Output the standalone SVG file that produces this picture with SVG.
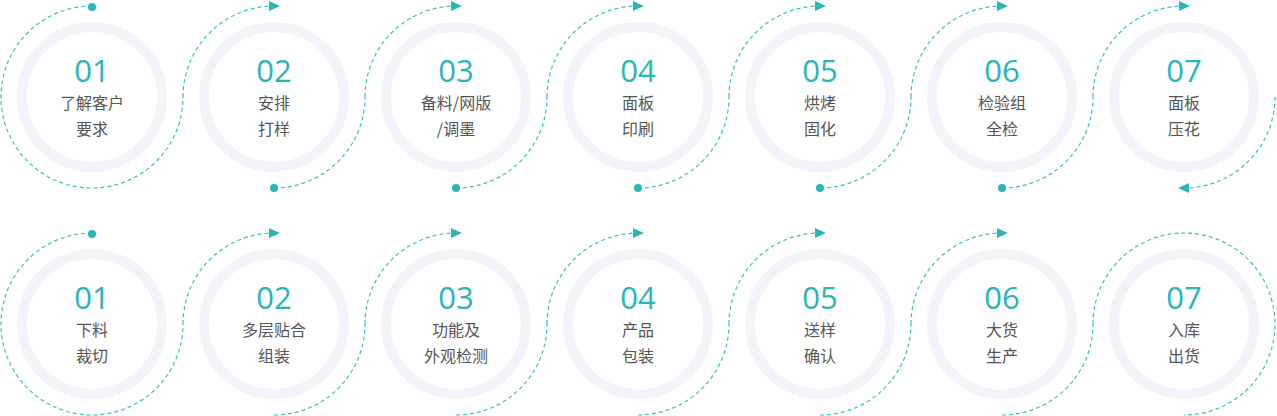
<svg xmlns="http://www.w3.org/2000/svg" width="1277" height="416" viewBox="0 0 1277 416">
<style>
.ring{fill:none;stroke:#f3f4f9;stroke-width:10}
.num{font-family:"Open Sans","Liberation Sans",sans-serif;font-size:31px;fill:#2ab5b8;text-anchor:middle}
.lbl{font-family:"Noto Sans CJK SC","Noto Sans",sans-serif;font-size:16px;fill:#555;text-anchor:middle}
.d{fill:none;stroke:#3bbfbf;stroke-width:1.2;stroke-dasharray:4 3}
.dot{fill:#2ab5b8}
</style>
<defs>
<marker id="ar" markerWidth="12" markerHeight="12" refX="6" refY="6" orient="auto" markerUnits="userSpaceOnUse">
<path d="M1,1 L12,6 L1,11 z" fill="#2ab5b8"/>
</marker>
</defs>
<g id="connectors">
<path class="d" d="M92,6 A91,91 0 1 0 183,97"/>
<path class="d" d="M183,97 A91,91 0 0 1 274,6" marker-end="url(#ar)"/>
<path class="d" d="M274,188 A91,91 0 0 0 365,97"/>
<path class="d" d="M365,97 A91,91 0 0 1 456,6" marker-end="url(#ar)"/>
<path class="d" d="M456,188 A91,91 0 0 0 547,97"/>
<path class="d" d="M547,97 A91,91 0 0 1 638,6" marker-end="url(#ar)"/>
<path class="d" d="M638,188 A91,91 0 0 0 729,97"/>
<path class="d" d="M729,97 A91,91 0 0 1 820,6" marker-end="url(#ar)"/>
<path class="d" d="M820,188 A91,91 0 0 0 911,97"/>
<path class="d" d="M911,97 A91,91 0 0 1 1002,6" marker-end="url(#ar)"/>
<path class="d" d="M1002,188 A91,91 0 0 0 1093,97"/>
<path class="d" d="M1093,97 A91,91 0 0 1 1184,6" marker-end="url(#ar)"/>
<path class="d" d="M1275,97 A91,91 0 0 1 1184,188" marker-end="url(#ar)"/>
<circle class="dot" cx="92" cy="7" r="4"/>
<circle class="dot" cx="274" cy="188" r="4"/>
<circle class="dot" cx="456" cy="188" r="4"/>
<circle class="dot" cx="638" cy="188" r="4"/>
<circle class="dot" cx="820" cy="188" r="4"/>
<circle class="dot" cx="1002" cy="188" r="4"/>
<path class="d" d="M92,233 A91,91 0 1 0 183,324"/>
<path class="d" d="M183,324 A91,91 0 0 1 274,233" marker-end="url(#ar)"/>
<path class="d" d="M274,415 A91,91 0 0 0 365,324"/>
<path class="d" d="M365,324 A91,91 0 0 1 456,233" marker-end="url(#ar)"/>
<path class="d" d="M456,415 A91,91 0 0 0 547,324"/>
<path class="d" d="M547,324 A91,91 0 0 1 638,233" marker-end="url(#ar)"/>
<path class="d" d="M638,415 A91,91 0 0 0 729,324"/>
<path class="d" d="M729,324 A91,91 0 0 1 820,233" marker-end="url(#ar)"/>
<path class="d" d="M820,415 A91,91 0 0 0 911,324"/>
<path class="d" d="M911,324 A91,91 0 0 1 1002,233" marker-end="url(#ar)"/>
<path class="d" d="M1002,415 A91,91 0 0 0 1093,324"/>
<path class="d" d="M1093,324 A91,91 0 1 1 1184,415"/>
<circle class="dot" cx="92" cy="234" r="4"/>
</g>
<g id="t1"><circle class="ring" cx="92" cy="97" r="70"/><text class="num" x="92" y="82">01</text><text class="lbl" x="92" y="109">了解客户</text><text class="lbl" x="92" y="135">要求</text></g>
<g id="t2"><circle class="ring" cx="274" cy="97" r="70"/><text class="num" x="274" y="82">02</text><text class="lbl" x="274" y="109">安排</text><text class="lbl" x="274" y="135">打样</text></g>
<g id="t3"><circle class="ring" cx="456" cy="97" r="70"/><text class="num" x="456" y="82">03</text><text class="lbl" x="456" y="109">备料/网版</text><text class="lbl" x="456" y="135">/调墨</text></g>
<g id="t4"><circle class="ring" cx="638" cy="97" r="70"/><text class="num" x="638" y="82">04</text><text class="lbl" x="638" y="109">面板</text><text class="lbl" x="638" y="135">印刷</text></g>
<g id="t5"><circle class="ring" cx="820" cy="97" r="70"/><text class="num" x="820" y="82">05</text><text class="lbl" x="820" y="109">烘烤</text><text class="lbl" x="820" y="135">固化</text></g>
<g id="t6"><circle class="ring" cx="1002" cy="97" r="70"/><text class="num" x="1002" y="82">06</text><text class="lbl" x="1002" y="109">检验组</text><text class="lbl" x="1002" y="135">全检</text></g>
<g id="t7"><circle class="ring" cx="1184" cy="97" r="70"/><text class="num" x="1184" y="82">07</text><text class="lbl" x="1184" y="109">面板</text><text class="lbl" x="1184" y="135">压花</text></g>
<g id="b1"><circle class="ring" cx="92" cy="324" r="70"/><text class="num" x="92" y="309">01</text><text class="lbl" x="92" y="336">下料</text><text class="lbl" x="92" y="362">裁切</text></g>
<g id="b2"><circle class="ring" cx="274" cy="324" r="70"/><text class="num" x="274" y="309">02</text><text class="lbl" x="274" y="336">多层贴合</text><text class="lbl" x="274" y="362">组装</text></g>
<g id="b3"><circle class="ring" cx="456" cy="324" r="70"/><text class="num" x="456" y="309">03</text><text class="lbl" x="456" y="336">功能及</text><text class="lbl" x="456" y="362">外观检测</text></g>
<g id="b4"><circle class="ring" cx="638" cy="324" r="70"/><text class="num" x="638" y="309">04</text><text class="lbl" x="638" y="336">产品</text><text class="lbl" x="638" y="362">包装</text></g>
<g id="b5"><circle class="ring" cx="820" cy="324" r="70"/><text class="num" x="820" y="309">05</text><text class="lbl" x="820" y="336">送样</text><text class="lbl" x="820" y="362">确认</text></g>
<g id="b6"><circle class="ring" cx="1002" cy="324" r="70"/><text class="num" x="1002" y="309">06</text><text class="lbl" x="1002" y="336">大货</text><text class="lbl" x="1002" y="362">生产</text></g>
<g id="b7"><circle class="ring" cx="1184" cy="324" r="70"/><text class="num" x="1184" y="309">07</text><text class="lbl" x="1184" y="336">入库</text><text class="lbl" x="1184" y="362">出货</text></g>
</svg>
